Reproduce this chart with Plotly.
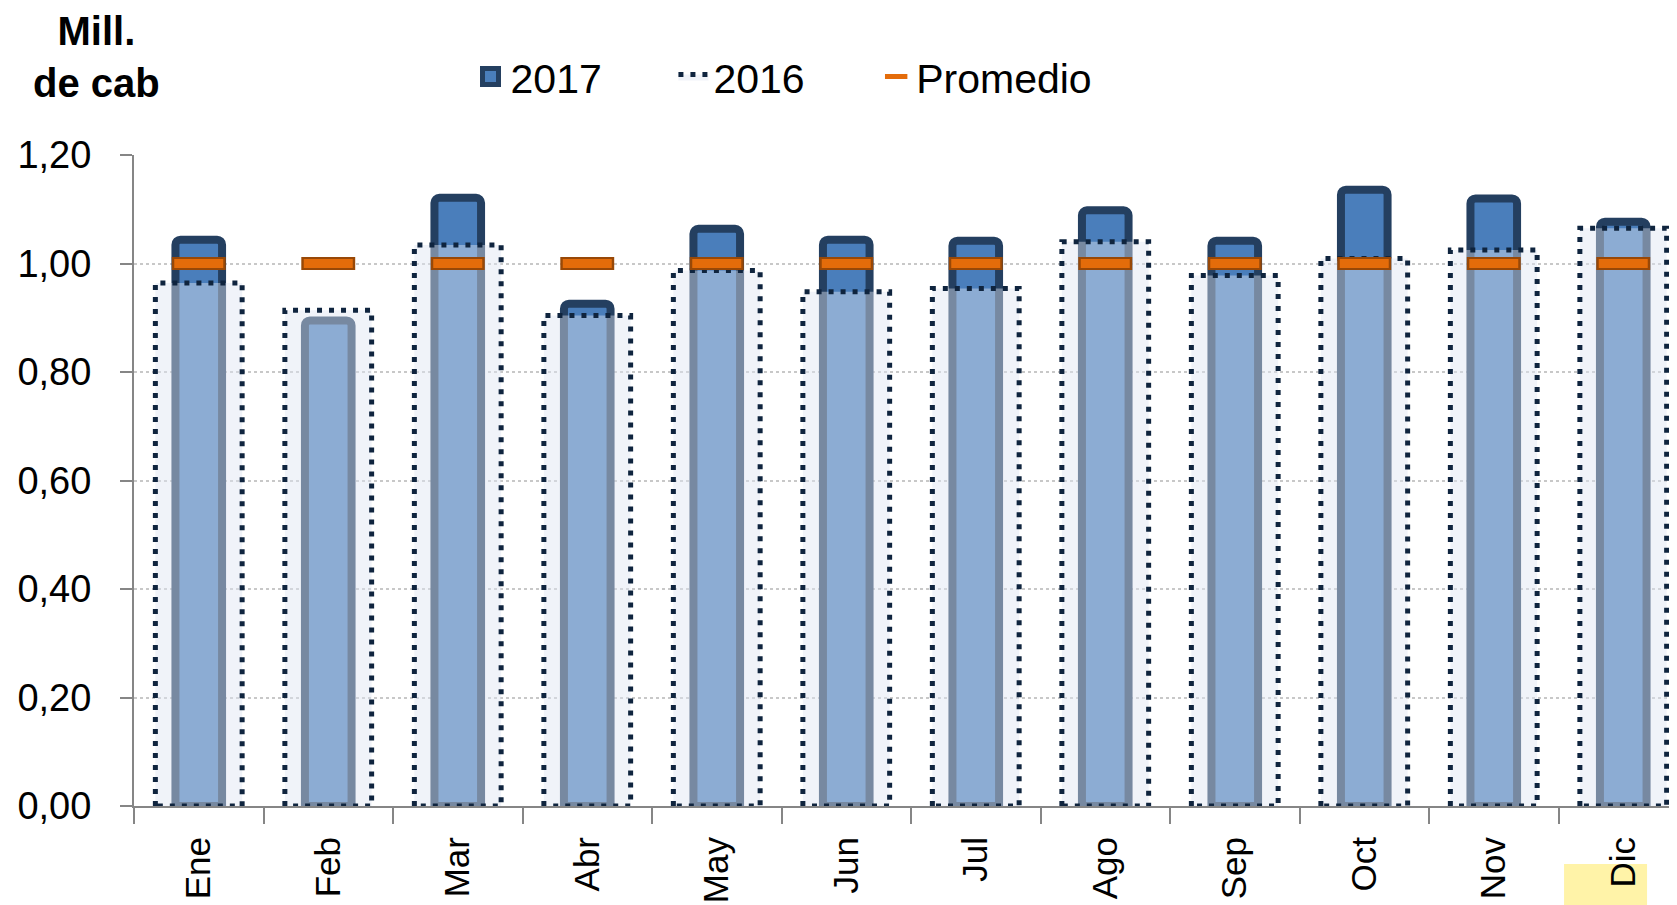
import plotly.graph_objects as go

months = ["Ene", "Feb", "Mar", "Abr", "May", "Jun", "Jul", "Ago", "Sep", "Oct", "Nov", "Dic"]
v2017 = [1.044, 0.895, 1.121, 0.926, 1.064, 1.044, 1.042, 1.098, 1.042, 1.136, 1.120, 1.077]
v2016 = [0.964, 0.914, 1.034, 0.904, 0.987, 0.948, 0.954, 1.040, 0.978, 1.009, 1.025, 1.065]
promedio = [1.00, 1.00, 1.00, 1.00, 1.00, 1.00, 1.00, 1.00, 1.00, 1.00, 1.00, 1.00]
y_ticks = [0.0, 0.2, 0.4, 0.6, 0.8, 1.0, 1.2]
y_ticktext = ["0,00", "0,20", "0,40", "0,60", "0,80", "1,00", "1,20"]

FONT = "Liberation Sans, Arial, sans-serif"
XRANGE = [-0.5, 11.415]
W2017 = 0.36
W2016 = 0.67

fig = go.Figure()

# 2017 bars (categorical axis)
fig.add_trace(go.Bar(
    x=months, y=v2017, name="2017", width=W2017, showlegend=False,
    marker=dict(color="#4a7ebb", line=dict(color="#243f60", width=8), cornerradius=5),
    xaxis="x", yaxis="y", hoverinfo="skip",
))
# legend entry for 2017
fig.add_trace(go.Scatter(
    x=[None], y=[None], name="2017", mode="markers", legend="legend",
    marker=dict(symbol="square", size=16, color="#4a7ebb", line=dict(color="#243f60", width=5)),
    xaxis="x2", yaxis="y", hoverinfo="skip",
))

# 2016 translucent boxes with dotted outline (numeric overlay axis)
hw = W2016 / 2
xs, ys = [], []
for i, v in enumerate(v2016):
    xs += [i - hw, i - hw, i + hw, i + hw, i - hw, None]
    ys += [0, v, v, 0, 0, None]
fig.add_trace(go.Scatter(
    x=xs, y=ys, name="2016", mode="lines", fill="toself", legend="legend2",
    fillcolor="rgba(221,228,241,0.45)",
    line=dict(color="#0f243e", width=5, dash="5px,7px"),
    xaxis="x2", yaxis="y", hoverinfo="skip",
))

# Promedio dashes
idx = list(range(len(months)))
fig.add_trace(go.Scatter(
    x=idx, y=promedio, mode="markers", showlegend=False,
    marker=dict(symbol="line-ew", size=38.5, line=dict(color="#984807", width=13)),
    xaxis="x2", yaxis="y", hoverinfo="skip",
))
fig.add_trace(go.Scatter(
    x=idx, y=promedio, mode="markers", name="Promedio", legend="legend3",
    marker=dict(symbol="line-ew", size=35, line=dict(color="#e46c0a", width=9)),
    xaxis="x2", yaxis="y", hoverinfo="skip",
))

legend_common = dict(
    orientation="h", xanchor="left", y=1.12, yanchor="middle",
    font=dict(size=41, family=FONT, color="black"), bgcolor="rgba(0,0,0,0)",
)

fig.update_layout(
    width=1669, height=897,
    margin=dict(l=126, r=0, t=147, b=99, autoexpand=False),
    paper_bgcolor="white", plot_bgcolor="white",
    barmode="overlay",
    font=dict(family=FONT, color="black"),
    xaxis=dict(
        type="category", range=XRANGE, categoryorder="array", categoryarray=months,
        tickson="boundaries", ticks="outside", ticklen=16, tickwidth=1.5, tickcolor="#868686",
        showline=True, linecolor="#868686", linewidth=2,
        tickangle=-90, tickfont=dict(size=35, family=FONT, color="black"),
        ticklabelstandoff=15, showgrid=False, automargin=False, fixedrange=True,
    ),
    xaxis2=dict(
        range=XRANGE, overlaying="x", visible=False, showgrid=False, zeroline=False,
        fixedrange=True,
    ),
    yaxis=dict(
        range=[0, 1.2], tickvals=y_ticks, ticktext=y_ticktext,
        ticks="outside", ticklen=12, tickwidth=1.5, tickcolor="#868686",
        showline=True, linecolor="#868686", linewidth=2,
        showgrid=True, gridcolor="#c8c8c8", gridwidth=1.5, griddash="dot",
        zeroline=False, tickfont=dict(size=38, family=FONT, color="black"),
        ticklabelstandoff=21, automargin=False, fixedrange=True,
    ),
    legend=dict(x=0.2181, **legend_common),
    legend2=dict(x=0.3496, **legend_common),
    legend3=dict(x=0.4810, **legend_common),
    annotations=[dict(
        text="<b>Mill.</b><br><b>de cab</b>", xref="paper", yref="paper",
        x=-0.0246, y=1.151, xanchor="center", yanchor="middle", showarrow=False,
        align="center", font=dict(size=40, family=FONT, color="black"),
    )],
    shapes=[dict(
        type="rect", xref="paper", yref="paper", x0=0.9268, x1=0.9806, y0=-0.152, y1=-0.089,
        fillcolor="#fff3a8", line=dict(width=0), layer="below",
    )],
)

fig.write_html("out.html")
